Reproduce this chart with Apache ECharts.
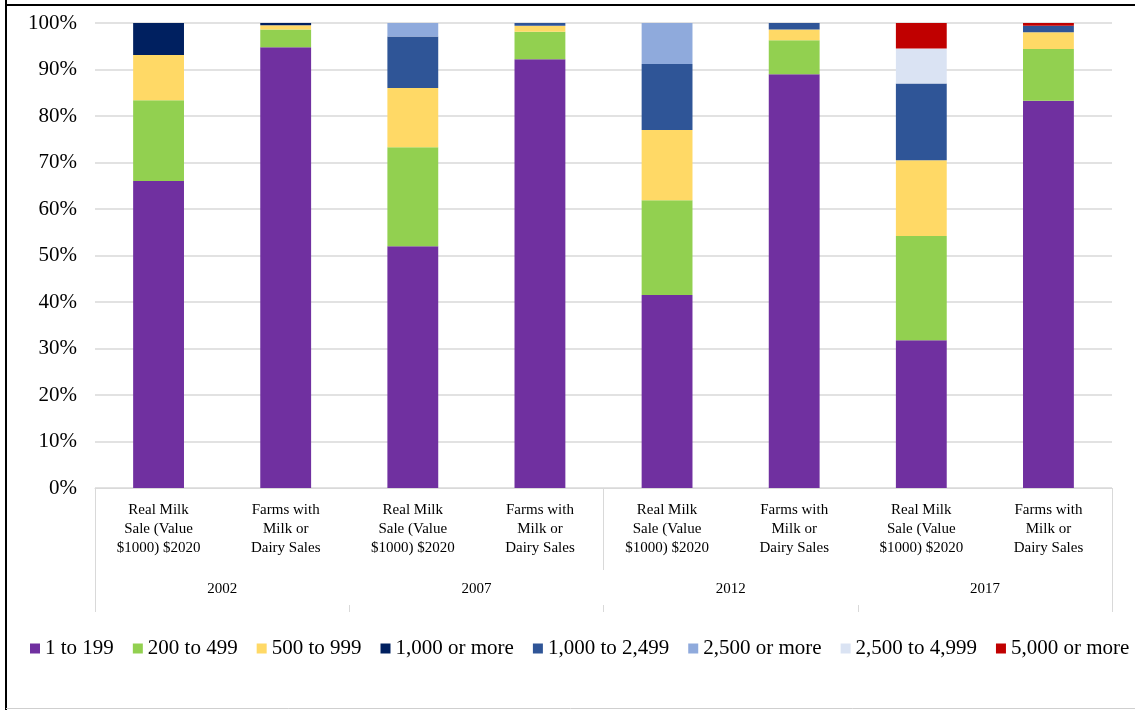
<!DOCTYPE html>
<html>
<head>
<meta charset="utf-8">
<script src="https://cdn.jsdelivr.net/npm/echarts@6/dist/echarts.min.js"></script>
<style>
  html, body { margin: 0; padding: 0; background: #fff; }
  #chart { width: 1135px; height: 710px; }
</style>
</head>
<body>
<div id="chart"></div>
<script>
// Share of dairy sales / farms by size class (herd sales in $1000), census years
const categories = [
  'Real Milk\nSale (Value\n$1000) $2020', 'Farms with\nMilk or\nDairy Sales',
  'Real Milk\nSale (Value\n$1000) $2020', 'Farms with\nMilk or\nDairy Sales',
  'Real Milk\nSale (Value\n$1000) $2020', 'Farms with\nMilk or\nDairy Sales',
  'Real Milk\nSale (Value\n$1000) $2020', 'Farms with\nMilk or\nDairy Sales'
];
const years = ['2002', '2007', '2012', '2017'];
const yTicks = [0, 10, 20, 30, 40, 50, 60, 70, 80, 90, 100];

const seriesNames = ['1 to 199', '200 to 499', '500 to 999', '1,000 or more',
  '1,000 to 2,499', '2,500 or more', '2,500 to 4,999', '5,000 or more'];

const s1to199      = [66.0, 94.8, 52.0, 92.2, 41.5, 89.0, 31.8, 83.3];
const s200to499    = [17.4, 3.8, 21.3, 5.9, 20.4, 7.3, 22.4, 11.1];
const s500to999    = [9.7, 0.9, 12.7, 1.3, 15.1, 2.3, 16.3, 3.6];
const s1000plus    = [6.9, 0.5, null, null, null, null, null, null];
const s1000to2499  = [null, null, 11.1, 0.6, 14.2, 1.4, 16.5, 1.4];
const s2500plus    = [null, null, 2.9, null, 8.8, null, null, null];
const s2500to4999  = [null, null, null, null, null, null, 7.5, null];
const s5000plus    = [null, null, null, null, null, null, 5.5, 0.6];

const seriesData = [s1to199, s200to499, s500to999, s1000plus,
  s1000to2499, s2500plus, s2500to4999, s5000plus];
const colors = ['#7030A0', '#92D050', '#FFD966', '#002060',
  '#2F5597', '#8FAADC', '#DAE3F3', '#C00000'];

const FONT = 'Liberation Serif, Times New Roman, serif';
const GRID_COLOR = '#d9d9d9';

const chart = echarts.init(document.getElementById('chart'), null, { renderer: 'canvas' });

const option = {
  animation: false,
  backgroundColor: '#fff',
  color: colors,
  textStyle: { fontFamily: FONT, color: '#000' },
  grid: { left: 95, right: 23, top: 23, bottom: 222, containLabel: false },
  legend: {
    data: seriesNames,
    left: 25,
    top: 633,
    icon: 'rect',
    itemWidth: 10,
    itemHeight: 10,
    itemGap: 19,
    textStyle: { fontFamily: FONT, fontSize: 21, color: '#000' }
  },
  xAxis: [
    {
      type: 'category',
      data: categories,
      position: 'bottom',
      axisLine: { show: true, lineStyle: { color: GRID_COLOR, width: 1 } },
      axisTick: {
        show: true,
        interval: function (i) { return i % 4 === 0; },
        length: 82,
        lineStyle: { color: GRID_COLOR, width: 1 }
      },
      axisLabel: {
        interval: 0,
        margin: 13,
        fontFamily: FONT,
        fontSize: 15,
        lineHeight: 19,
        color: '#000'
      },
      splitLine: { show: false }
    },
    {
      type: 'category',
      data: years,
      position: 'bottom',
      offset: 82,
      axisLine: { show: false },
      axisTick: {
        show: true,
        interval: function (i) { return i === 0; },
        length: 42,
        lineStyle: { color: GRID_COLOR, width: 1 }
      },
      axisLabel: {
        interval: 0,
        margin: 12,
        fontFamily: FONT,
        fontSize: 15,
        color: '#000'
      }
    },
    {
      type: 'category',
      data: years,
      position: 'bottom',
      offset: 117,
      axisLine: { show: false },
      axisTick: { show: true, length: 7, lineStyle: { color: GRID_COLOR, width: 1 } },
      axisLabel: { show: false }
    }
  ],
  yAxis: {
    type: 'value',
    min: yTicks[0],
    max: yTicks[yTicks.length - 1],
    interval: yTicks[1] - yTicks[0],
    axisLine: { show: false },
    axisTick: { show: false },
    axisLabel: {
      formatter: '{value}%',
      margin: 18,
      fontFamily: FONT,
      fontSize: 21,
      color: '#000'
    },
    splitLine: { show: true, lineStyle: { color: GRID_COLOR, width: 1.5 } }
  },
  series: seriesNames.map(function (name, i) {
    return {
      name: name,
      type: 'bar',
      stack: 'total',
      xAxisIndex: 0,
      barWidth: '40%',
      data: seriesData[i],
      itemStyle: { color: colors[i] }
    };
  }),
  graphic: [
    { type: 'line', shape: { x1: 6, y1: 0, x2: 6, y2: 710 }, style: { stroke: '#000', lineWidth: 2 }, silent: true },
    { type: 'line', shape: { x1: 6, y1: 5, x2: 1135, y2: 5 }, style: { stroke: '#000', lineWidth: 2 }, silent: true },
    { type: 'line', shape: { x1: 6, y1: 708.5, x2: 1135, y2: 708.5 }, style: { stroke: '#cfcfcf', lineWidth: 1 }, silent: true }
  ]
};

chart.setOption(option);
</script>
</body>
</html>
